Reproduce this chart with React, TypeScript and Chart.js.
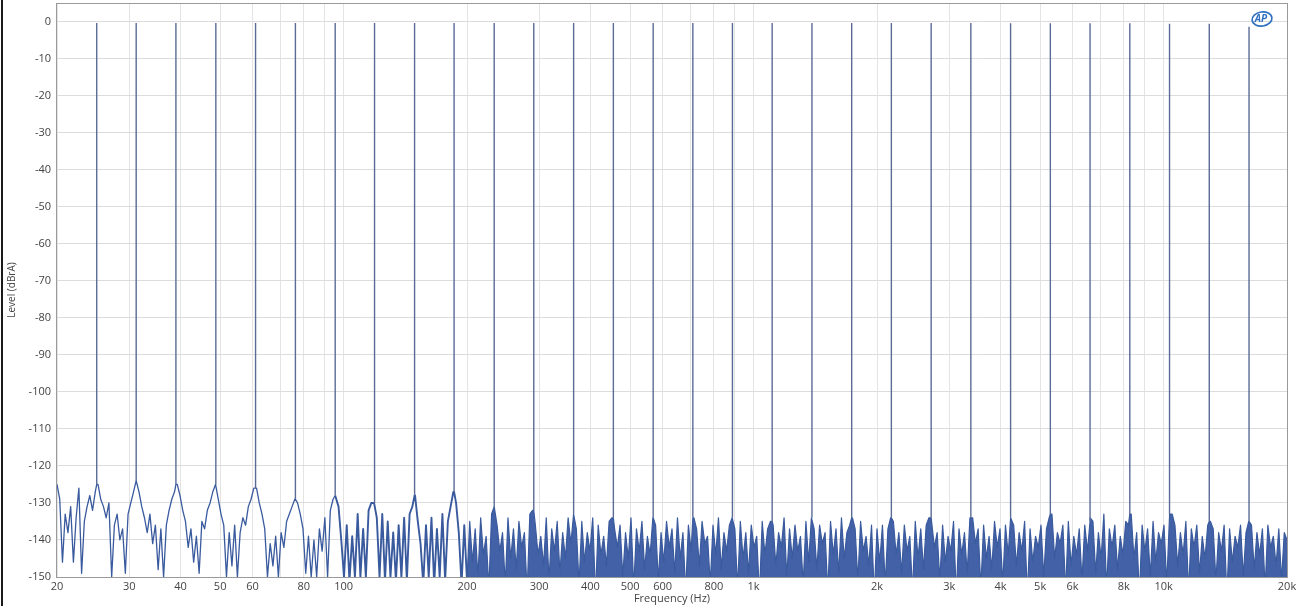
import React, { useEffect, useRef } from "react";
import { Chart, registerables } from "chart.js";

Chart.register(...registerables);

// Multitone frequencies (Hz), their levels (dBrA) and the skirt level at each tone's foot
const toneFreqs = [25, 31.2, 39, 48.8, 61, 76.3, 95.4, 119, 149, 186, 233, 291, 364, 455, 569, 711, 888, 1110, 1388, 1735, 2168, 2711, 3388, 4235, 5294, 6617, 8272, 10340, 12925, 16160];
const toneLevels = [-0.4, -0.4, -0.4, -0.4, -0.4, -0.4, -0.4, -0.4, -0.4, -0.4, -0.4, -0.4, -0.4, -0.4, -0.4, -0.4, -0.4, -0.4, -0.4, -0.4, -0.4, -0.4, -0.4, -0.5, -0.5, -0.5, -0.5, -0.6, -0.6, -1.4];
const toneFootLevels = [-125, -124, -125, -125, -126, -129, -128, -130, -128, -127, -131, -132, -133, -134, -134, -134, -134, -135, -134, -134, -134, -134, -134, -134, -133, -135, -133, -133, -135, -135];

// Noise floor measurement grid: 150 points per decade starting at 20 Hz
const noiseStartHz = 20;
const noisePointsPerDecade = 150;

// Noise floor levels (dBrA), 20 Hz - 200 Hz
const noiseLow = [
  -125, -129, -146, -133, -138, -131, -146, -134, -126, -149, -135, -131, -128, -132, -127,
  -125, -129, -131, -134, -130, -150, -136, -133, -140, -137, -149, -133, -130, -127, -124,
  -127, -131, -134, -138, -133, -141, -136, -148, -137, -150, -136, -132, -129, -127, -125,
  -128, -132, -135, -142, -137, -146, -139, -149, -135, -137, -132, -130, -127, -125, -129,
  -133, -136, -150, -138, -147, -136, -150, -138, -134, -136, -131, -129, -126, -126, -130,
  -133, -137, -150, -141, -147, -139, -150, -138, -142, -135, -133, -131, -129, -130, -133,
  -137, -149, -139, -150, -140, -150, -137, -143, -134, -150, -132, -129, -128, -131, -140,
  -150, -136, -151, -139, -150, -133, -150, -137, -150, -132, -130, -130, -134, -150, -133,
  -151, -135, -150, -138, -151, -136, -150, -134, -151, -133, -131, -128, -135, -141, -152,
  -136, -150, -134, -152, -137, -150, -133, -151, -135, -131, -127, -130, -138, -152, -136,
  -151,
];
// Noise floor levels (dBrA), 200 Hz - 2 kHz
const noiseMid = [
  -135, -146, -137, -150, -134, -144, -139, -153, -133, -131, -136, -143, -138, -152, -134,
  -145, -137, -148, -135, -142, -138, -154, -133, -132, -136, -144, -139, -147, -134, -151,
  -137, -143, -135, -149, -138, -145, -134, -141, -133, -137, -152, -135, -146, -138, -143,
  -134, -155, -136, -144, -139, -147, -135, -134, -137, -142, -136, -150, -138, -145, -134,
  -153, -137, -143, -135, -148, -139, -144, -134, -136, -151, -138, -146, -135, -142, -137,
  -149, -134, -145, -138, -154, -136, -143, -134, -137, -147, -135, -141, -139, -152, -136,
  -144, -134, -148, -138, -143, -136, -134, -137, -153, -135, -145, -138, -149, -136, -142,
  -139, -155, -135, -144, -137, -135, -136, -147, -138, -142, -134, -150, -137, -145, -136,
  -143, -139, -152, -135, -146, -134, -137, -148, -136, -141, -138, -154, -135, -144, -137,
  -149, -134, -145, -138, -136, -134, -137, -151, -135, -143, -139, -147, -136, -155, -137,
];
// Noise floor levels (dBrA), 2 kHz - 20 kHz
const noiseHigh = [
  -146, -136, -152, -137, -134, -135, -144, -138, -149, -136, -143, -139, -154, -135, -145,
  -137, -148, -136, -134, -134, -142, -138, -151, -136, -146, -139, -143, -135, -155, -137,
  -144, -138, -149, -134, -134, -141, -137, -153, -136, -145, -139, -148, -135, -142, -137,
  -152, -136, -144, -134, -136, -147, -138, -143, -135, -155, -137, -146, -139, -142, -136,
  -150, -137, -134, -133, -145, -138, -141, -136, -154, -135, -147, -139, -144, -137, -151,
  -136, -143, -134, -135, -149, -138, -145, -133, -153, -137, -142, -136, -148, -139, -144,
  -135, -136, -133, -145, -138, -155, -136, -143, -137, -150, -135, -146, -138, -141, -136,
  -152, -134, -133, -136, -147, -138, -144, -135, -154, -137, -142, -136, -149, -139, -145,
  -136, -135, -137, -151, -138, -143, -136, -155, -137, -146, -139, -142, -136, -150, -138,
  -135, -136, -148, -138, -144, -137, -153, -136, -142, -139, -147, -137, -151, -138, -140,
];

// Axis ticks
const xGridValues = [20, 30, 40, 50, 60, 70, 80, 90, 100, 200, 300, 400, 500, 600, 700, 800, 900, 1000, 2000, 3000, 4000, 5000, 6000, 7000, 8000, 9000, 10000, 20000];
const xLabelValues = [20, 30, 40, 50, 60, 80, 100, 200, 300, 400, 500, 600, 800, 1000, 2000, 3000, 4000, 5000, 6000, 8000, 10000, 20000];
const xLabelTexts = ["20", "30", "40", "50", "60", "80", "100", "200", "300", "400", "500", "600", "800", "1k", "2k", "3k", "4k", "5k", "6k", "8k", "10k", "20k"];
const yTickValues = [-150, -140, -130, -120, -110, -100, -90, -80, -70, -60, -50, -40, -30, -20, -10, 0];

const xTitle = "Frequency (Hz)";
const yTitle = "Level (dBrA)";

const FONT = "'Open Sans', 'Noto Sans', sans-serif";
const TRACE = "#3a5a9e";
const BODY = "#4261a7";
const SPIKE = "#5a6b95";

function buildNoise() {
  const levels = [...noiseLow, ...noiseMid, ...noiseHigh];
  const pts: { x: number; y: number }[] = levels.map((y, i) => ({
    x: noiseStartHz * Math.pow(10, i / noisePointsPerDecade),
    y,
  }));
  toneFreqs.forEach((f, i) => pts.push({ x: f, y: toneFootLevels[i] }));
  pts.sort((a, b) => a.x - b.x);
  return pts;
}

function buildTones() {
  const pts: { x: number; y: number }[] = [];
  toneFreqs.forEach((f, i) => {
    pts.push({ x: f, y: toneFootLevels[i] });
    pts.push({ x: f, y: toneLevels[i] });
    pts.push({ x: f, y: NaN });
  });
  return pts;
}

const framePlugin = {
  id: "frame",
  afterDraw(chart: any) {
    const { ctx, chartArea } = chart;
    const { left, top, right, bottom } = chartArea;
    ctx.save();
    ctx.strokeStyle = "#9a9a9a";
    ctx.lineWidth = 1;
    ctx.strokeRect(Math.round(left) - 0.5, Math.round(top) + 0.5, Math.round(right - left) + 1, Math.round(bottom - top));
    // left dark edge of the picture
    ctx.fillStyle = "#1a1a1a";
    ctx.fillRect(1, 0, 2, chart.height);
    // AP logo
    const cx = right - 26;
    const cy = top + 16;
    ctx.strokeStyle = "#2f6fc0";
    ctx.lineWidth = 1.6;
    ctx.beginPath();
    ctx.ellipse(cx + 1, cy, 10, 7, -0.15, 0, Math.PI * 2);
    ctx.stroke();
    ctx.fillStyle = "#2f6fc0";
    ctx.font = "italic bold 10px " + FONT;
    ctx.textAlign = "center";
    ctx.textBaseline = "middle";
    ctx.fillText("AP", cx, cy + 0.5);
    ctx.restore();
  },
};

export default function App() {
  const ref = useRef<HTMLCanvasElement | null>(null);

  useEffect(() => {
    if (!ref.current) return;
    const chart = new Chart(ref.current, {
      type: "line",
      data: {
        datasets: [
          {
            data: buildTones(),
            borderColor: SPIKE,
            borderWidth: 1.4,
            pointRadius: 0,
            tension: 0,
            fill: false,
            spanGaps: false,
            clip: 0,
          } as any,
          {
            data: buildNoise(),
            borderColor: TRACE,
            backgroundColor: BODY,
            borderWidth: 1.2,
            borderJoinStyle: "round",
            pointRadius: 0,
            tension: 0,
            fill: "start",
            clip: 0,
            segment: {
              borderWidth: (ctx: any) => (ctx.p0.parsed.x < 95 ? 1.3 : ctx.p0.parsed.x < 200 ? 1.9 : 1.2),
              backgroundColor: (ctx: any) => (ctx.p0.parsed.x >= 200 ? BODY : "rgba(0,0,0,0)"),
            },
          } as any,
        ],
      },
      options: {
        animation: false,
        responsive: false,
        parsing: false,
        layout: { padding: { left: 0, right: 14, top: 3, bottom: 0 } },
        plugins: {
          legend: { display: false },
          tooltip: { enabled: false },
          filler: { propagate: false },
        },
        scales: {
          x: {
            type: "logarithmic",
            min: 20,
            max: 20000,
            afterBuildTicks: (scale: any) => {
              scale.ticks = xGridValues.map((v) => ({ value: v }));
            },
            afterFit: (scale: any) => {
              scale.height = 29;
              scale.paddingLeft = 0;
              scale.paddingRight = 0;
            },
            ticks: {
              autoSkip: false,
              maxRotation: 0,
              minRotation: 0,
              padding: 3,
              color: "#444",
              font: { family: FONT, size: 11 },
              callback: (value: any) => {
                const idx = xLabelValues.indexOf(Number(value));
                return idx >= 0 ? xLabelTexts[idx] : "";
              },
            },
            grid: { color: "#e4e4e4", drawTicks: false, lineWidth: 1 },
            border: { display: false },
            title: {
              display: true,
              text: xTitle,
              color: "#444",
              font: { family: FONT, size: 11 },
              padding: { top: 0, bottom: 1 },
            },
          },
          y: {
            type: "linear",
            min: -150,
            max: 5,
            afterBuildTicks: (scale: any) => {
              scale.ticks = yTickValues.map((v) => ({ value: v }));
            },
            afterFit: (scale: any) => {
              scale.width = 57;
              scale.paddingTop = 0;
              scale.paddingBottom = 0;
            },
            ticks: {
              padding: 6,
              color: "#444",
              font: { family: FONT, size: 11 },
            },
            grid: { color: "#dcdcdc", drawTicks: false, lineWidth: 1 },
            border: { display: false },
            title: {
              display: true,
              text: yTitle,
              color: "#444",
              font: { family: FONT, size: 10 },
              padding: { top: 6, bottom: 0 },
            },
          },
        },
      },
      plugins: [framePlugin],
    });
    return () => chart.destroy();
  }, []);

  return (
    <div style={{ position: "fixed", left: 0, top: 0, width: 1301, height: 606, background: "#fff" }}>
      <canvas ref={ref} width={1301} height={606} style={{ display: "block" }} />
    </div>
  );
}
